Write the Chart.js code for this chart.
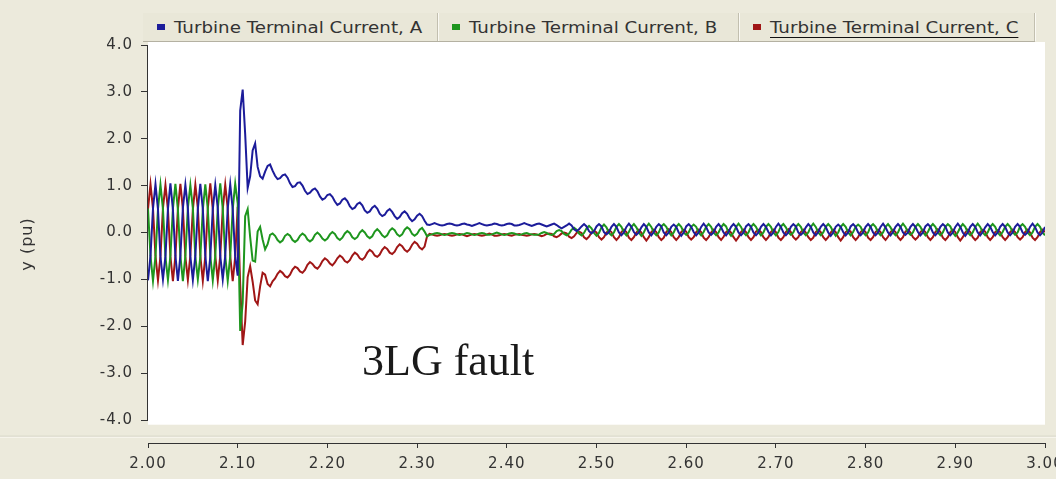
<!DOCTYPE html>
<html>
<head>
<meta charset="utf-8">
<script src="https://cdn.jsdelivr.net/npm/chart.js@4.4.1/dist/chart.umd.min.js"></script>
<style>
  html, body { margin: 0; padding: 0; background: #ECEADC; }
  #wrap { position: relative; width: 1056px; height: 479px; overflow: hidden; }
  #chart { position: absolute; left: 0; top: 0; }
  #legend {
    position: absolute; left: 143px; top: 13px; height: 28px;
    display: flex; background: #E9E7D8; border-bottom: 1px solid #B4B1A2;
  }
  #legend .item {
    position: relative; height: 28px; display: flex; align-items: center;
    border-right: 1px solid #C2BFAF; box-shadow: 1px 0 0 #FAF9F3;
  }
  #legend .box { width: 8px; height: 6px; margin-left: 14px; margin-right: 9px; flex: none; }
  #legend .txt {
    font: 16px "DejaVu Sans", sans-serif; color: #333; white-space: nowrap;
    transform: scaleX(1.14); transform-origin: left center;
  }
  #legend .txt.sel { text-decoration: underline; text-underline-offset: 4px; text-decoration-color: #111; }
</style>
</head>
<body>
<div id="wrap">
  <canvas id="chart" width="1056" height="479"></canvas>
  <div id="legend"></div>
</div>
<script>
// ---- data ----
// samples every 1/360 s starting at t = 2.00 s (6 samples per 60 Hz cycle)
const T0 = 2.0;
const DT = 1 / 360;

const seriesNames = ["Turbine Terminal Current, A", "Turbine Terminal Current, B", "Turbine Terminal Current, C"];
const seriesColors = ["#1C1C9A", "#1E961E", "#A01616"];
const legendWidths = [294, 300, 295];

const xTicks = [2.0, 2.1, 2.2, 2.3, 2.4, 2.5, 2.6, 2.7, 2.8, 2.9, 3.0];
const yTicks = [-4, -3, -2, -1, 0, 1, 2, 3, 4];

const currentA = [
  -1.02, -0.50, 0.51, 1.03, 0.50, -0.52,
  -1.00, -0.51, 0.50, 1.05, 0.49, -0.50,
  -1.03, -0.49, 0.52, 1.02, 0.51, -0.51,
  -1.01, -0.50, 0.50, 1.04, 0.50, -0.49,
  -1.04, -0.52, 0.49, 1.01, 0.52, -0.50,
  -1.00, -0.50, 0.51, 1.03, 0.50, -0.51,
  -0.92, 2.60, 3.05, 2.10, 0.95, 1.20,
  1.75, 1.90, 1.40, 1.20, 1.15, 1.30,
  1.42, 1.45, 1.32, 1.21, 1.14, 1.16,
  1.22, 1.24, 1.17, 1.05, 0.97, 0.99,
  1.06, 1.07, 1.00, 0.89, 0.82, 0.85,
  0.91, 0.94, 0.88, 0.77, 0.70, 0.73,
  0.80, 0.82, 0.76, 0.66, 0.59, 0.62,
  0.70, 0.73, 0.67, 0.56, 0.50, 0.53,
  0.61, 0.64, 0.58, 0.47, 0.42, 0.45,
  0.53, 0.57, 0.51, 0.40, 0.35, 0.38,
  0.46, 0.50, 0.44, 0.35, 0.29, 0.33,
  0.41, 0.45, 0.40, 0.30, 0.24, 0.28,
  0.36, 0.40, 0.35, 0.25, 0.17, 0.16,
  0.18, 0.20, 0.18, 0.16, 0.15, 0.16,
  0.18, 0.19, 0.18, 0.16, 0.15, 0.16,
  0.18, 0.19, 0.17, 0.16, 0.14, 0.16,
  0.18, 0.20, 0.18, 0.16, 0.15, 0.16,
  0.17, 0.19, 0.18, 0.16, 0.15, 0.16,
  0.18, 0.19, 0.18, 0.15, 0.15, 0.16,
  0.18, 0.20, 0.18, 0.16, 0.14, 0.16,
  0.18, 0.19, 0.17, 0.15, 0.13, 0.15,
  0.17, 0.19, 0.16, 0.12, 0.09, 0.12,
  0.15, 0.19, 0.15, 0.07, 0.03, 0.07,
  0.13, 0.18, 0.13, 0.03, -0.02, 0.03,
  0.13, 0.18, 0.13, 0.01, -0.04, 0.01,
  0.12, 0.18, 0.12, 0.00, -0.06, 0.00,
  0.12, 0.19, 0.12, 0.01, -0.05, 0.00,
  0.11, 0.18, 0.12, 0.00, -0.06, 0.01,
  0.12, 0.18, 0.13, 0.00, -0.06, 0.00,
  0.12, 0.17, 0.12, 0.00, -0.07, 0.00,
  0.13, 0.18, 0.12, 0.01, -0.06, 0.00,
  0.12, 0.19, 0.12, 0.00, -0.05, 0.00,
  0.12, 0.18, 0.11, 0.00, -0.06, 0.01,
  0.12, 0.18, 0.12, 0.00, -0.06, 0.00,
  0.13, 0.18, 0.12, 0.00, -0.06, 0.00,
  0.12, 0.18, 0.12, 0.01, -0.06, 0.00,
  0.12, 0.19, 0.12, 0.00, -0.06, 0.00,
  0.12, 0.18, 0.13, 0.00, -0.05, 0.00,
  0.11, 0.18, 0.12, 0.00, -0.06, 0.01,
  0.12, 0.18, 0.12, 0.00, -0.07, 0.00,
  0.12, 0.17, 0.12, 0.01, -0.06, 0.00,
  0.13, 0.18, 0.12, 0.00, -0.06, 0.00,
  0.12, 0.18, 0.12, 0.00, -0.06, 0.00,
  0.12, 0.19, 0.11, 0.00, -0.06, 0.01,
  0.12, 0.18, 0.12, 0.00, -0.05, 0.00,
  0.12, 0.18, 0.12, 0.01, -0.06, 0.00,
  0.13, 0.18, 0.12, 0.00, -0.06, 0.00,
  0.12, 0.18, 0.13, 0.00, -0.06, 0.00,
  0.12, 0.19, 0.12, 0.00, -0.07, 0.00,
  0.12, 0.18, 0.12, 0.00, -0.06, 0.01,
  0.11, 0.18, 0.12, 0.01, -0.06, 0.00,
  0.12, 0.18, 0.12, 0.00, -0.06, 0.00,
  0.12, 0.18, 0.12, 0.00, -0.05, 0.00,
  0.12, 0.19, 0.12, 0.00, -0.06, 0.00,
  0.12
];

const currentB = [
  0.51, -0.50, -1.03, -0.51, 0.50, 1.02,
  0.50, -0.52, -1.01, -0.49, 0.51, 1.04,
  0.49, -0.50, -1.04, -0.50, 0.52, 1.01,
  0.52, -0.51, -1.00, -0.52, 0.49, 1.03,
  0.50, -0.49, -1.02, -0.50, 0.51, 1.05,
  0.51, -0.50, -1.03, -0.51, 0.50, 1.04,
  0.62, -2.10, -1.50, 0.35, 0.50, -0.10,
  -0.60, -0.62, 0.02, 0.12, -0.15, -0.36,
  -0.25, -0.05, -0.02, -0.07, -0.16, -0.21,
  -0.17, -0.07, -0.03, -0.07, -0.16, -0.20,
  -0.16, -0.07, -0.02, -0.06, -0.15, -0.19,
  -0.15, -0.05, 0.00, -0.05, -0.13, -0.17,
  -0.13, -0.04, 0.01, -0.03, -0.12, -0.16,
  -0.11, -0.02, 0.03, -0.01, -0.10, -0.14,
  -0.10, 0.00, 0.05, 0.00, -0.08, -0.12,
  -0.08, 0.02, 0.07, 0.02, -0.06, -0.10,
  -0.06, 0.04, 0.09, 0.05, -0.04, -0.08,
  -0.04, 0.06, 0.11, 0.07, -0.03, -0.07,
  -0.03, 0.06, 0.10, 0.02, -0.08, -0.05,
  -0.04, -0.02, -0.01, -0.02, -0.04, -0.05,
  -0.04, -0.02, -0.01, -0.02, -0.04, -0.05,
  -0.04, -0.03, -0.01, -0.02, -0.04, -0.05,
  -0.04, -0.02, -0.01, -0.02, -0.05, -0.05,
  -0.04, -0.02, 0.00, -0.02, -0.04, -0.05,
  -0.04, -0.02, -0.01, -0.02, -0.04, -0.05,
  -0.04, -0.02, -0.01, -0.03, -0.04, -0.05,
  -0.05, -0.04, -0.01, 0.01, -0.01, -0.04,
  -0.05, -0.03, 0.03, 0.05, 0.03, -0.03,
  -0.06, -0.02, 0.06, 0.10, 0.06, -0.02,
  -0.06, -0.01, 0.09, 0.14, 0.09, -0.01,
  -0.07, -0.01, 0.11, 0.17, 0.11, -0.01,
  -0.06, 0.00, 0.12, 0.18, 0.12, 0.00,
  -0.06, 0.01, 0.12, 0.18, 0.11, 0.00,
  -0.07, 0.00, 0.12, 0.19, 0.12, 0.00,
  -0.06, 0.00, 0.13, 0.18, 0.12, 0.01,
  -0.06, 0.00, 0.12, 0.18, 0.12, 0.00,
  -0.05, 0.00, 0.12, 0.17, 0.12, 0.00,
  -0.06, 0.01, 0.12, 0.18, 0.12, 0.00,
  -0.06, 0.00, 0.11, 0.18, 0.13, 0.00,
  -0.07, 0.00, 0.12, 0.19, 0.12, 0.00,
  -0.06, 0.00, 0.12, 0.18, 0.12, 0.01,
  -0.06, 0.00, 0.12, 0.18, 0.12, 0.00,
  -0.06, 0.01, 0.13, 0.18, 0.11, 0.00,
  -0.05, 0.00, 0.12, 0.18, 0.12, 0.00,
  -0.06, 0.00, 0.12, 0.19, 0.12, 0.00,
  -0.06, 0.00, 0.12, 0.18, 0.12, 0.01,
  -0.07, 0.00, 0.12, 0.18, 0.12, 0.00,
  -0.06, 0.01, 0.12, 0.17, 0.12, 0.00,
  -0.06, 0.00, 0.13, 0.18, 0.12, 0.00,
  -0.06, 0.00, 0.12, 0.18, 0.11, 0.00,
  -0.06, 0.00, 0.12, 0.19, 0.12, 0.00,
  -0.05, 0.00, 0.12, 0.18, 0.12, 0.01,
  -0.06, 0.01, 0.12, 0.18, 0.12, 0.00,
  -0.06, 0.00, 0.12, 0.18, 0.13, 0.00,
  -0.07, 0.00, 0.11, 0.18, 0.12, 0.00,
  -0.06, 0.00, 0.12, 0.19, 0.12, 0.00,
  -0.06, 0.00, 0.12, 0.18, 0.12, 0.00,
  -0.06, 0.01, 0.12, 0.18, 0.12, 0.01,
  -0.05, 0.00, 0.13, 0.18, 0.12, 0.00,
  -0.06, 0.00, 0.12, 0.18, 0.12, 0.00,
  -0.06
];

const currentC = [
  0.50, 1.03, 0.51, -0.50, -1.02, -0.51,
  0.52, 1.01, 0.49, -0.51, -1.04, -0.50,
  0.50, 1.04, 0.50, -0.52, -1.01, -0.49,
  0.49, 1.02, 0.52, -0.50, -1.03, -0.51,
  0.51, 1.05, 0.50, -0.49, -1.02, -0.50,
  0.50, 1.02, 0.51, -0.50, -1.04, -0.52,
  0.55, -1.10, -2.40, -1.90, -0.95, -0.72,
  -1.05, -1.45, -1.53, -1.15, -0.86, -0.90,
  -1.10, -1.15, -1.04, -0.98, -0.88, -0.82,
  -0.86, -0.93, -0.96, -0.90, -0.79, -0.73,
  -0.76, -0.83, -0.86, -0.80, -0.69, -0.63,
  -0.67, -0.74, -0.77, -0.71, -0.61, -0.55,
  -0.59, -0.66, -0.70, -0.64, -0.55, -0.49,
  -0.53, -0.61, -0.64, -0.59, -0.49, -0.43,
  -0.47, -0.55, -0.58, -0.53, -0.43, -0.37,
  -0.41, -0.49, -0.52, -0.47, -0.37, -0.31,
  -0.35, -0.43, -0.46, -0.41, -0.31, -0.25,
  -0.29, -0.37, -0.41, -0.36, -0.26, -0.20,
  -0.24, -0.32, -0.36, -0.30, -0.08, -0.03,
  -0.04, -0.06, -0.07, -0.06, -0.04, -0.03,
  -0.04, -0.06, -0.07, -0.06, -0.04, -0.03,
  -0.04, -0.06, -0.08, -0.06, -0.04, -0.03,
  -0.04, -0.06, -0.07, -0.06, -0.04, -0.02,
  -0.04, -0.07, -0.07, -0.06, -0.04, -0.03,
  -0.04, -0.06, -0.07, -0.05, -0.04, -0.03,
  -0.05, -0.06, -0.07, -0.06, -0.04, -0.03,
  -0.04, -0.06, -0.08, -0.06, -0.03, -0.02,
  -0.03, -0.08, -0.10, -0.07, -0.02, 0.00,
  -0.02, -0.09, -0.12, -0.08, -0.01, 0.02,
  -0.01, -0.10, -0.14, -0.09, 0.00, 0.04,
  0.00, -0.10, -0.15, -0.10, 0.00, 0.05,
  0.01, -0.10, -0.16, -0.10, 0.01, 0.06,
  0.01, -0.11, -0.16, -0.10, 0.00, 0.06,
  0.00, -0.10, -0.17, -0.10, 0.01, 0.06,
  0.01, -0.10, -0.16, -0.11, 0.01, 0.07,
  0.01, -0.10, -0.16, -0.10, 0.01, 0.06,
  0.02, -0.10, -0.15, -0.10, 0.01, 0.06,
  0.01, -0.11, -0.16, -0.10, 0.00, 0.06,
  0.01, -0.10, -0.16, -0.09, 0.01, 0.05,
  0.00, -0.10, -0.17, -0.10, 0.01, 0.06,
  0.01, -0.10, -0.16, -0.10, 0.02, 0.06,
  0.01, -0.10, -0.16, -0.10, 0.01, 0.06,
  0.01, -0.11, -0.16, -0.10, 0.01, 0.07,
  0.01, -0.10, -0.15, -0.10, 0.01, 0.06,
  0.00, -0.10, -0.16, -0.11, 0.01, 0.06,
  0.01, -0.10, -0.16, -0.10, 0.00, 0.06,
  0.01, -0.10, -0.17, -0.10, 0.01, 0.05,
  0.02, -0.10, -0.16, -0.10, 0.01, 0.06,
  0.01, -0.11, -0.16, -0.10, 0.01, 0.06,
  0.01, -0.10, -0.16, -0.09, 0.01, 0.06,
  0.01, -0.10, -0.16, -0.10, 0.02, 0.06,
  0.00, -0.10, -0.15, -0.10, 0.01, 0.06,
  0.01, -0.10, -0.16, -0.10, 0.01, 0.07,
  0.01, -0.11, -0.16, -0.10, 0.01, 0.06,
  0.01, -0.10, -0.17, -0.10, 0.00, 0.06,
  0.01, -0.10, -0.16, -0.11, 0.01, 0.06,
  0.02, -0.10, -0.16, -0.10, 0.01, 0.05,
  0.01, -0.10, -0.16, -0.10, 0.01, 0.06,
  0.01, -0.10, -0.15, -0.10, 0.01, 0.06,
  0.00, -0.11, -0.16, -0.10, 0.01, 0.06,
  0.01
];

const annotationText = "3LG fault";
const annotationAt = { x: 2.2386, y: -3.04 };

// ---- helpers ----
const toPoints = vals => vals.map((v, i) => ({ x: T0 + i * DT, y: v }));

// legend strip (HTML, like the toolbar-style legend in the original)
const legendEl = document.getElementById("legend");
seriesNames.forEach((name, i) => {
  const item = document.createElement("div");
  item.className = "item";
  item.style.width = legendWidths[i] + "px";
  item.innerHTML = `<span class="box" style="background:${seriesColors[i]}"></span>` +
    `<span class="txt${i === 2 ? " sel" : ""}">${name}</span>`;
  legendEl.appendChild(item);
});

const panelPlugin = {
  id: "panel",
  beforeUpdate(chart) { chart.ctx.letterSpacing = "1px"; },
  beforeDraw(chart) {
    const { ctx, chartArea, scales } = chart;
    ctx.letterSpacing = "1px";
    ctx.save();
    ctx.fillStyle = "#ECEADC";
    ctx.fillRect(0, 0, chart.width, chart.height);
    // white plotting panel
    const bottom = scales.y.getPixelForValue(-4.1);
    ctx.fillStyle = "#FFFFFF";
    ctx.fillRect(chartArea.left, chartArea.top - 3, chartArea.right - chartArea.left, bottom - chartArea.top + 3);
    // separator between plot panel and time axis
    ctx.fillStyle = "#D2CFBF";
    ctx.fillRect(0, bottom + 11, chart.width, 1);
    ctx.fillStyle = "#FAF9F2";
    ctx.fillRect(0, bottom + 12, chart.width, 1);
    ctx.restore();
  },
  afterDatasetsDraw(chart) {
    const { ctx, chartArea, scales } = chart;
    ctx.save();
    // y axis line from 4.0 down to -4.0
    ctx.strokeStyle = "#333";
    ctx.lineWidth = 1;
    ctx.beginPath();
    ctx.moveTo(chartArea.left - 0.5, scales.y.getPixelForValue(4));
    ctx.lineTo(chartArea.left - 0.5, scales.y.getPixelForValue(-4));
    ctx.stroke();
    // annotation
    ctx.letterSpacing = "0px";
    ctx.fillStyle = "#1a1a1a";
    ctx.font = '44px "Liberation Serif", "Times New Roman", serif';
    ctx.textBaseline = "alphabetic";
    ctx.textAlign = "left";
    ctx.fillText(annotationText, scales.x.getPixelForValue(annotationAt.x), scales.y.getPixelForValue(annotationAt.y));
    ctx.restore();
  }
};

const tickFont = { family: "'DejaVu Sans', sans-serif", size: 15 };

new Chart(document.getElementById("chart"), {
  type: "line",
  data: {
    datasets: [currentA, currentB, currentC].map((vals, i) => ({
      label: seriesNames[i],
      data: toPoints(vals),
      borderColor: seriesColors[i],
      backgroundColor: seriesColors[i],
      borderWidth: 2,
      pointRadius: 0,
      tension: 0,
      fill: false,
    })),
  },
  options: {
    responsive: false,
    animation: false,
    events: [],
    layout: { padding: { top: 45, right: 11, left: 0, bottom: 0 } },
    plugins: { legend: { display: false }, tooltip: { enabled: false } },
    scales: {
      x: {
        type: "linear", min: 2, max: 3,
        afterBuildTicks: s => { s.ticks = xTicks.map(v => ({ value: v })); },
        afterFit: s => { s.paddingLeft = 0; s.paddingRight = 0; s.height = 36; },
        border: { display: true, color: "#333", width: 1 },
        grid: { drawOnChartArea: false, tickLength: 5, color: "#333" },
        ticks: { padding: 7, maxRotation: 0, autoSkip: false, color: "#333", font: tickFont, callback: v => v.toFixed(2) },
      },
      y: {
        min: -4.49, max: 4,
        afterBuildTicks: s => { s.ticks = yTicks.map(v => ({ value: v })); },
        afterFit: s => { s.width = 148; },
        border: { display: false },
        grid: { drawOnChartArea: false, tickLength: 7, color: "#333" },
        ticks: { padding: 8, color: "#333", font: tickFont, callback: v => v.toFixed(1) },
        title: { display: true, text: "y (pu)", color: "#333", font: { family: "'DejaVu Sans', sans-serif", size: 16 }, padding: { top: 18, bottom: 0 } },
      },
    },
  },
  plugins: [panelPlugin],
});
</script>
</body>
</html>
